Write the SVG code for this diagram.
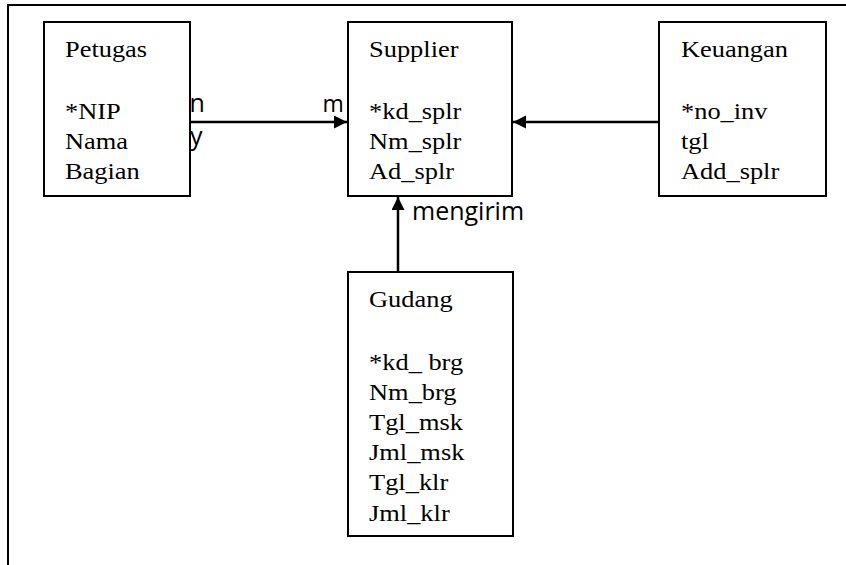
<svg xmlns="http://www.w3.org/2000/svg" width="846" height="565" viewBox="0 0 846 565">
<style>
.box{fill:#fff;stroke:#000;stroke-width:2}
.t{font-family:"Liberation Serif","Times New Roman",serif;font-size:24px;fill:#000}
.lbl{font-family:"Open Sans","Noto Sans",sans-serif;fill:#000}
.conn{stroke:#000;stroke-width:2.5;fill:none}
.frame{stroke:#000;stroke-width:2;fill:none}
</style>
<defs>
<marker id="arr" markerUnits="userSpaceOnUse" markerWidth="14" markerHeight="14" refX="13" refY="6.5" orient="auto">
<path d="M0,0 L13,6.5 L0,13 Z" fill="#000"/>
</marker>
</defs>
<rect width="846" height="565" fill="#fff"/>
<path class="frame" d="M8,565 L8,5 L846,5"/>
<g id="connectors">
<line class="conn" x1="190" y1="122" x2="347" y2="122" marker-end="url(#arr)"/>
<line class="conn" x1="659" y1="122" x2="513" y2="122" marker-end="url(#arr)"/>
<line class="conn" x1="398" y1="272" x2="398" y2="197" marker-end="url(#arr)"/>
<text class="lbl" x="189.5" y="112" font-size="25">n</text>
<text class="lbl" x="190" y="145" font-size="25">y</text>
<text class="lbl" x="322.5" y="112" font-size="23">m</text>
<text class="lbl" x="412" y="220" font-size="25">mengirim</text>
</g>
<g id="petugas">
<rect class="box" x="44" y="22" width="146" height="174"/>
<g transform="scale(1.1,1)">
<text class="t" x="59.1" y="57">Petugas</text>
<text class="t" x="59.1" y="119">*NIP</text>
<text class="t" x="59.1" y="149">Nama</text>
<text class="t" x="59.1" y="179">Bagian</text>
</g>
</g>
<g id="supplier">
<rect class="box" x="348" y="22" width="164" height="174"/>
<g transform="scale(1.1,1)">
<text class="t" x="335.5" y="57">Supplier</text>
<text class="t" x="335.5" y="119">*kd_splr</text>
<text class="t" x="335.5" y="149">Nm_splr</text>
<text class="t" x="335.5" y="179">Ad_splr</text>
</g>
</g>
<g id="keuangan">
<rect class="box" x="659" y="22" width="167" height="174"/>
<g transform="scale(1.1,1)">
<text class="t" x="619.1" y="57">Keuangan</text>
<text class="t" x="619.1" y="119">*no_inv</text>
<text class="t" x="619.1" y="149">tgl</text>
<text class="t" x="619.1" y="179">Add_splr</text>
</g>
</g>
<g id="gudang">
<rect class="box" x="348" y="272" width="165" height="264"/>
<g transform="scale(1.1,1)">
<text class="t" x="335.5" y="307">Gudang</text>
<text class="t" x="335.5" y="370">*kd_ brg</text>
<text class="t" x="335.5" y="400">Nm_brg</text>
<text class="t" x="335.5" y="430">Tgl_msk</text>
<text class="t" x="335.5" y="460">Jml_msk</text>
<text class="t" x="335.5" y="490">Tgl_klr</text>
<text class="t" x="335.5" y="521">Jml_klr</text>
</g>
</g>
</svg>
